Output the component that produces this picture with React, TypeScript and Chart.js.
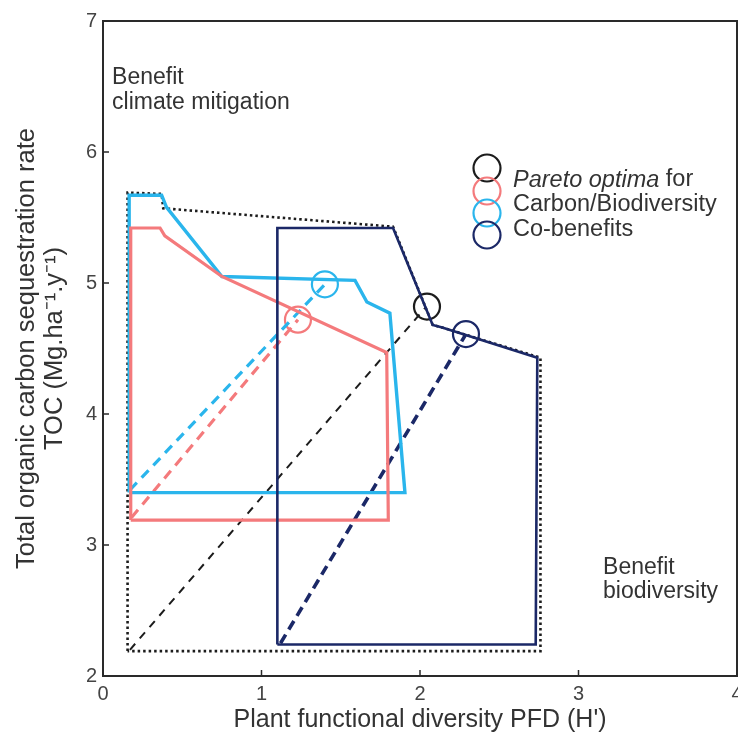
import React, { useEffect, useRef } from "react";
import { Chart, registerables } from "chart.js";

Chart.register(...registerables);

const FONT = "'Liberation Sans', Arial, Helvetica, sans-serif";

// Axis ticks
const xTickValues = [0, 1, 2, 3, 4];
const yTickValues = [2, 3, 4, 5, 6, 7];

// Outer dotted envelope
const envX = [0.155, 0.155, 0.37, 0.38, 1.83, 2.08, 2.14, 2.76, 2.76, 0.155];
const envY = [2.19, 5.69, 5.68, 5.57, 5.43, 4.68, 4.66, 4.43, 2.19, 2.19];

// Co-benefits (navy) polygon
const navyX = [1.1, 1.1, 1.83, 2.08, 2.14, 2.74, 2.73, 1.1];
const navyY = [2.24, 5.42, 5.42, 4.68, 4.66, 4.43, 2.24, 2.24];

// Carbon/Biodiversity (cyan) polygon
const cyanX = [0.165, 0.165, 0.37, 0.4, 0.75, 1.59, 1.665, 1.81, 1.905, 0.165];
const cyanY = [3.4, 5.67, 5.67, 5.58, 5.05, 5.02, 4.855, 4.77, 3.4, 3.4];

// Carbon/Biodiversity (pink) polygon
const pinkX = [0.175, 0.175, 0.36, 0.39, 0.75, 1.79, 1.8, 0.175];
const pinkY = [3.19, 5.42, 5.42, 5.36, 5.05, 4.47, 3.19, 3.19];

// Dashed lines toward Pareto optima
const blackDashX = [0.17, 2.04];
const blackDashY = [2.2, 4.82];
const navyDashX = [1.12, 2.29];
const navyDashY = [2.25, 4.61];
const cyanDashX = [0.17, 1.4];
const cyanDashY = [3.42, 4.99];
const pinkDashX = [0.18, 1.23];
const pinkDashY = [3.21, 4.72];

// Pareto optima circles
const paretoX = [2.044, 1.23, 1.4, 2.29];
const paretoY = [4.82, 4.72, 4.99, 4.61];

const BLACK = "#1c1c1c";
const PINK = "#f47a7c";
const CYAN = "#2ab5ec";
const NAVY = "#1b2867";

const legendLines = ["Carbon/Biodiversity", "Co-benefits"];

const pts = (xs: number[], ys: number[]) => xs.map((x, i) => ({ x, y: ys[i] }));

const decorPlugin = {
  id: "decor",
  afterDraw(chart: any) {
    const { ctx, chartArea } = chart;
    const xs = chart.scales.x;
    const ys = chart.scales.y;
    ctx.save();
    // frame
    ctx.strokeStyle = "#2a2a2a";
    ctx.lineWidth = 2;
    ctx.setLineDash([]);
    ctx.strokeRect(chartArea.left, chartArea.top, chartArea.right - chartArea.left, chartArea.bottom - chartArea.top);
    // inner ticks
    ctx.lineWidth = 1.5;
    xTickValues.forEach((v) => {
      const p = xs.getPixelForValue(v);
      ctx.beginPath();
      ctx.moveTo(p, chartArea.bottom);
      ctx.lineTo(p, chartArea.bottom - 6);
      ctx.stroke();
    });
    yTickValues.forEach((v) => {
      const p = ys.getPixelForValue(v);
      ctx.beginPath();
      ctx.moveTo(chartArea.left, p);
      ctx.lineTo(chartArea.left + 6, p);
      ctx.stroke();
    });

    // annotations
    ctx.fillStyle = "#333";
    ctx.font = `23px ${FONT}`;
    ctx.textBaseline = "middle";
    ctx.textAlign = "left";
    ctx.fillText("Benefit", xs.getPixelForValue(0.057), ys.getPixelForValue(6.565));
    ctx.fillText("climate mitigation", xs.getPixelForValue(0.057), ys.getPixelForValue(6.374));
    ctx.fillText("Benefit", xs.getPixelForValue(3.155), ys.getPixelForValue(2.824));
    ctx.fillText("biodiversity", xs.getPixelForValue(3.155), ys.getPixelForValue(2.641));

    // legend
    const lx = 487;
    const circleYs = [168, 191, 213, 235];
    const colors = [BLACK, PINK, CYAN, NAVY];
    ctx.lineWidth = 2.2;
    circleYs.forEach((cy, i) => {
      ctx.strokeStyle = colors[i];
      ctx.beginPath();
      ctx.arc(lx, cy, 13.5, 0, Math.PI * 2);
      ctx.stroke();
    });
    const tx = 513;
    ctx.fillStyle = "#333";
    ctx.font = `italic 23.5px ${FONT}`;
    const it = "Pareto optima";
    ctx.fillText(it, tx, 180);
    const w = ctx.measureText(it).width;
    ctx.font = `23.5px ${FONT}`;
    ctx.fillText(" for", tx + w, 180);
    ctx.fillText(legendLines[0], tx, 205);
    ctx.fillText(legendLines[1], tx, 230);
    ctx.restore();
  },
};

export default function App() {
  const ref = useRef<HTMLCanvasElement | null>(null);
  useEffect(() => {
    document.body.style.margin = "0";
    if (!ref.current) return;
    const line = (xs: number[], ys: number[], color: string, width: number, dash: number[] = []) => ({
      data: pts(xs, ys),
      showLine: true,
      borderColor: color,
      borderWidth: width,
      borderDash: dash,
      pointRadius: 0,
      fill: false,
      tension: 0,
    });
    const chart = new Chart(ref.current, {
      type: "scatter",
      data: {
        datasets: [
          line(navyX, navyY, NAVY, 2.6) as any,
          line(pinkX, pinkY, PINK, 3.2) as any,
          line(cyanX, cyanY, CYAN, 3.4) as any,
          line(envX, envY, BLACK, 2.6, [2.5, 3]) as any,
          line(blackDashX, blackDashY, BLACK, 2, [8, 7]) as any,
          line(pinkDashX, pinkDashY, PINK, 3.2, [10, 7]) as any,
          line(cyanDashX, cyanDashY, CYAN, 3.2, [10, 7]) as any,
          line(navyDashX, navyDashY, NAVY, 3.6, [10, 6]) as any,
          {
            data: pts(paretoX, paretoY),
            showLine: false,
            pointRadius: 13,
            pointStyle: "circle",
            pointBackgroundColor: "rgba(0,0,0,0)",
            pointBorderColor: [BLACK, PINK, CYAN, NAVY],
            pointBorderWidth: 2.2,
          } as any,
        ],
      },
      options: {
        animation: false,
        responsive: false,
        devicePixelRatio: 1,
        layout: { autoPadding: false, padding: { top: 21, right: 1, left: 0, bottom: 0 } },
        plugins: { legend: { display: false }, tooltip: { enabled: false } },
        scales: {
          x: {
            type: "linear",
            min: 0,
            max: 4,
            afterFit(s: any) {
              s.height = 65;
              s.paddingLeft = 0;
              s.paddingRight = 0;
            },
            grid: { display: false, drawTicks: false },
            border: { display: false },
            ticks: {
              stepSize: 1,
              padding: 6,
              color: "#444",
              maxRotation: 0,
              font: { size: 20, family: FONT },
            },
            title: {
              display: true,
              text: "Plant functional diversity PFD (H')",
              color: "#333",
              font: { size: 25, family: FONT },
              padding: { top: 0, bottom: 6 },
            },
          },
          y: {
            type: "linear",
            min: 2,
            max: 7,
            afterFit(s: any) {
              s.width = 103;
              s.paddingTop = 0;
              s.paddingBottom = 0;
            },
            grid: { display: false, drawTicks: false },
            border: { display: false },
            ticks: {
              stepSize: 1,
              padding: 6,
              color: "#444",
              font: { size: 20, family: FONT },
            },
            title: {
              display: true,
              text: ["Total organic carbon sequestration rate", "TOC (Mg.ha\u207B\u00B9.y\u207B\u00B9)"],
              color: "#333",
              font: { size: 25.5, family: FONT, lineHeight: "28px" } as any,
              padding: { top: 13, bottom: 0 },
            },
          },
        },
      },
      plugins: [decorPlugin],
    });
    return () => chart.destroy();
  }, []);
  return (
    <div style={{ position: "absolute", left: 0, top: 0 }}>
      <canvas ref={ref} width={738} height={741} style={{ display: "block", width: 738, height: 741 }} />
    </div>
  );
}
